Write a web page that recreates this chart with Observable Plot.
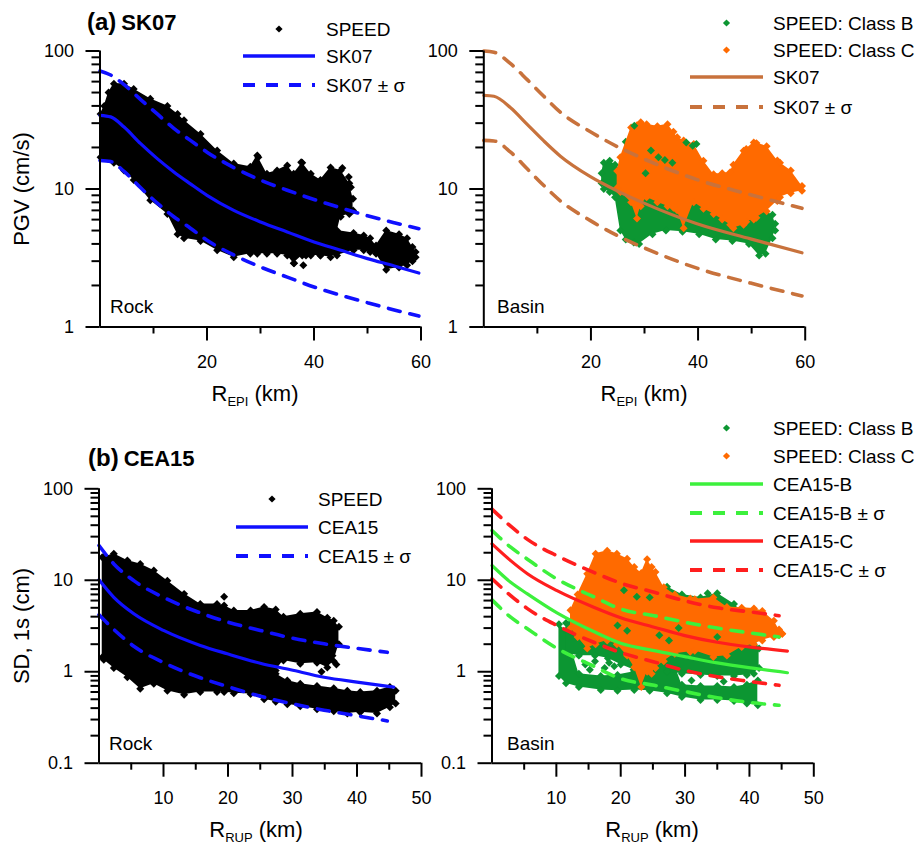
<!DOCTYPE html>
<html><head><meta charset="utf-8">
<script src="https://cdn.jsdelivr.net/npm/d3@7"></script>
<script src="https://cdn.jsdelivr.net/npm/@observablehq/plot@0.6"></script>
<style>
body{margin:0;background:#fff;}
#root{position:relative;width:924px;height:845px;overflow:hidden;background:#fff;font-family:"Liberation Sans",Arial,sans-serif;}
#root svg{overflow:visible;max-width:none;}
</style></head><body><div id="root"></div>
<script>
// ================= DATA =================
// ---- Panel (a) Rock: SPEED cloud envelope (R_EPI km, PGV cm/s)
const rockA_x  = [0.1, 0.8, 1.6, 2.6, 4.5, 6.3, 9.4, 12.6, 14.5, 15.7, 18.8, 21.9, 25.0, 28.1, 29.4, 31.2, 33.1, 35.0, 36.2, 37.8, 39.4, 41.2, 43.1, 45.0, 46.6, 47.3];
const rockA_hi = [35, 40, 50, 58, 58, 53, 45, 40, 35, 31.5, 25, 19, 15.3, 14.5, 17.5, 12.9, 13.6, 14.8, 12.9, 15.5, 12.9, 11.6, 14.3, 13.6, 11, 8.5];
const rockA_lo = [17, 16.8, 16.5, 15.5, 13.6, 11.6, 8.3, 6.6, 4.7, 4.4, 4.2, 3.6, 3.2, 3.4, 3.4, 3.4, 3.4, 3.3, 2.9, 3.3, 3.3, 3.3, 3.2, 6.3, 6.6, 7.0];
// low tail of the rock cloud
const rockA2_x  = [38.5, 41.2, 44.3, 47.4, 49.3, 50.5, 51.6, 53.5, 55.9, 57.4, 58.4, 59.0];
const rockA2_hi = [6.0, 5.6, 5.0, 4.8, 4.6, 4.4, 3.9, 5.0, 4.7, 4.4, 3.8, 3.5];
const rockA2_lo = [3.3, 3.3, 3.3, 3.6, 3.6, 3.5, 3.4, 2.6, 2.7, 2.8, 3.0, 3.2];
const rockA_ptX = [45.3, 46.5, 46.9, 44.5, 36.3, 29.6, 37.6, 42.0, 38.0];
const rockA_ptY = [14.2, 12.2, 10.3, 12.8, 2.9, 17.0, 15.6, 6.0, 2.8];
// SK07 (rock) median and +/- sigma
const sk07R_x   = [0, 2, 4.5, 7.6, 10.7, 13.8, 16.9, 20, 25, 30, 35, 40, 45, 50, 55, 59.6];
const sk07R_med = [34.2, 33.3, 28.1, 21.3, 16.6, 13.3, 10.9, 9.0, 7.0, 5.77, 4.88, 4.13, 3.6, 3.13, 2.77, 2.46];
const sk07R_hi  = [71.7, 67, 57, 44.5, 35, 27.5, 22.5, 18.5, 14.3, 11.6, 9.8, 8.4, 7.3, 6.4, 5.7, 5.16];
const sk07R_lo  = [16.1, 15.8, 13.4, 10.2, 7.9, 6.3, 5.2, 4.25, 3.33, 2.72, 2.3, 1.95, 1.7, 1.5, 1.33, 1.2];

// ---- Panel (a) Basin: Class B (green) and Class C (orange) clouds
const basAB_x  = [22.0, 22.4, 23.5, 24.5, 25.5, 26.5, 28, 29, 31.5, 34, 37.1, 40.2, 43.3, 46.4, 49.5, 51.4, 52.6, 53.9, 54.4];
const basAB_hi = [13, 15.5, 16, 15, 14, 22, 27, 24, 18, 15, 13, 12, 12, 10, 8, 7, 6.8, 6.5, 5.6];
const basAB_lo = [11, 10, 9.5, 8.7, 5.0, 4.3, 4.1, 4.0, 4.7, 5.0, 4.9, 4.7, 4.3, 4.2, 4.0, 3.3, 3.4, 4.4, 5.0];
const basAC_x  = [24.9, 25.5, 27.5, 28.6, 29.3, 30.4, 32.4, 34.3, 35.4, 36.1, 37.3, 39.2, 41, 42.9, 44.5, 46, 46.6, 48.5, 49.0, 50.4, 50.9, 52.8, 54.8, 55.3, 57.3, 59.4];
const basAC_hi = [13.5, 17, 27.9, 29, 30.4, 29.5, 28.5, 29.5, 26, 23.7, 22.5, 21.2, 16, 12.8, 13, 13.2, 15, 18.9, 19.5, 21.7, 21.5, 20.4, 16.1, 15.5, 13.6, 10.5];
const basAC_lo = [10.2, 9.5, 8, 6.1, 7.5, 8.7, 8, 7.5, 7.3, 7, 5.2, 8.0, 7.2, 6.6, 6.0, 5.5, 5.2, 5.5, 5.8, 6, 6.2, 6.9, 8.2, 8.7, 9.3, 9.7];
const basAB_ptX = [28.1, 31.2, 32.6, 33.8, 37.8, 39.0, 39.7, 30.2, 35.2];
const basAB_ptY = [28.7, 19.0, 17.0, 16.2, 21.7, 20.6, 21.2, 13.0, 15.5];
// SK07 (basin)
const sk07B_x   = [0, 1.9, 5, 8.1, 11.2, 14.3, 19.9, 24.9, 29.9, 39.8, 49.8, 59.4];
const sk07B_med = [47.7, 47, 38.8, 29.4, 22.3, 17.3, 12.3, 9.7, 7.9, 5.6, 4.35, 3.45];
const sk07B_hi  = [100, 98, 81, 62, 47, 36, 26, 20.3, 16.5, 11.7, 9.1, 7.24];
const sk07B_lo  = [22.5, 22.3, 18.5, 14, 10.6, 8.2, 5.9, 4.6, 3.75, 2.67, 2.08, 1.68];

// ---- Panel (b) Rock: SPEED cloud (R_RUP km, SD 1s cm): upper branch + low tail
const rockB_x  = [0.5, 0.75, 2.3, 4.4, 6.4, 8.5, 10.6, 13.2, 15.7, 18.3, 19.4, 20.9, 23.5, 25.6, 27.4, 28.6, 31.2, 33.8, 35.4, 36.4, 37.2];
const rockB_hi = [17.9, 17.9, 19.5, 16.4, 15.1, 12.8, 9.9, 7.1, 5.5, 5.5, 5.3, 4.67, 4.67, 5.1, 4.8, 4.0, 4.3, 4.5, 3.9, 3.6, 3.1];
const rockB_lo = [1.44, 1.35, 1.1, 0.87, 0.65, 0.74, 0.62, 0.56, 0.6, 0.6, 0.6, 0.58, 0.57, 0.55, 1.03, 1.33, 1.22, 1.25, 1.11, 1.3, 2.0];
const rockB2_x  = [25.6, 27.4, 29.2, 31.2, 33.8, 36.4, 38.5, 40.5, 43.1, 45.1, 46.0];
const rockB2_hi = [0.9, 0.95, 0.8, 0.74, 0.7, 0.66, 0.62, 0.6, 0.62, 0.68, 0.62];
const rockB2_lo = [0.5, 0.47, 0.44, 0.42, 0.39, 0.37, 0.35, 0.36, 0.35, 0.41, 0.45];
const rockB_ptX = [19.4, 36.8, 36.2, 37.0, 34.5];
const rockB_ptY = [6.6, 1.2, 1.5, 2.0, 1.0];
// CEA15 (rock)
const ceaR_x    = [0, 2.3, 5.4, 10, 15.7, 19.9, 25, 29.7, 34.9, 40, 45.7];
const ceaR_med  = [10.1, 6.5, 4.3, 2.83, 1.94, 1.57, 1.24, 1.05, 0.87, 0.77, 0.68];
const ceaRs_x   = [0, 2.3, 5.4, 10, 15.7, 19.9, 25, 29.7, 34.9, 40, 44.7];
const ceaR_hi   = [24, 15.1, 9.9, 6.5, 4.4, 3.5, 2.83, 2.35, 2.02, 1.8, 1.63];
const ceaR_lo   = [4.2, 2.9, 1.9, 1.26, 0.86, 0.69, 0.54, 0.45, 0.38, 0.33, 0.29];

// ---- Panel (b) Basin clouds: Class B in two bands, Class C
const basBB1_x  = [10.4, 11.5, 13.5, 16.9, 19.5, 22.1, 24.5, 27.2, 29.5, 32.4, 35, 37.6, 39.6, 41.3];
const basBB1_lo = [0.9, 0.75, 0.68, 0.63, 0.62, 0.63, 0.62, 0.58, 0.53, 0.49, 0.49, 0.48, 0.45, 0.43];
const basBB1_hi = [3.3, 2.8, 0.95, 0.9, 0.92, 1.0, 2.5, 2.0, 0.72, 0.7, 0.7, 0.68, 0.72, 0.8];
const basBB2_x  = [11.5, 13.5, 16, 18, 20, 22, 24.5, 27.2, 29.5, 32.4, 35, 37.6, 39.6, 40.7, 41.5];
const basBB2_lo = [1.6, 1.5, 1.5, 1.4, 1.2, 1.05, 1.0, 1.0, 0.95, 0.92, 0.9, 0.9, 0.92, 0.95, 1.1];
const basBB2_hi = [3.4, 3.9, 5, 5.5, 7.5, 8, 8, 8.5, 7, 6.5, 7.2, 5.5, 4.0, 2.5, 1.8];
const basBC_x  = [12.2, 13.3, 14.8, 16.1, 17.9, 19.4, 21, 22.1, 23.2, 24.1, 24.8, 25.4, 26.7, 28.4, 30.8, 31.5, 34.4, 36.5, 38.8, 40.7, 42, 43.8, 44.6, 45.1];
const basBC_hi = [4.7, 7, 11.8, 19.5, 21, 19.5, 17.2, 14, 12, 17, 14, 12.3, 8.4, 7, 6.3, 6.2, 6.5, 5.1, 5.0, 4.9, 4.6, 3.6, 2.9, 2.6];
const basBC_lo = [3.0, 2.39, 1.8, 2.0, 2.2, 2.0, 1.5, 1.12, 0.68, 1.0, 0.95, 1.1, 1.3, 1.57, 1.65, 1.7, 1.45, 1.5, 1.86, 2.0, 2.2, 2.4, 2.5, 2.6];
const basBB_ptX = [19.5, 21.0, 26.0, 27.5, 24.5, 33.5, 20.5, 22.5, 29.0, 35.0, 14.5, 16.0, 17.5, 19.0, 15.2, 18.2, 31.0, 36.0];
const basBB_ptY = [3.2, 2.8, 2.5, 2.2, 6.5, 7.2, 7.8, 6.6, 3.0, 2.4, 1.2, 1.3, 1.1, 1.15, 1.05, 1.25, 0.8, 0.78];
// CEA15-B / CEA15-C
const ceaB_x     = [0, 2.9, 5.5, 10.1, 15.8, 20, 25.2, 29.8, 35, 40.2, 45.9];
const ceaC_med   = [25, 16.4, 11.8, 7.7, 5.08, 3.9, 3.07, 2.5, 2.1, 1.86, 1.68];
const ceaB_med   = [14.5, 9.5, 7.1, 4.4, 2.75, 2.05, 1.7, 1.47, 1.25, 1.1, 0.975];
const ceaBs_x    = [0, 2.9, 5.5, 10.1, 15.8, 20, 25.2, 29.8, 35, 40.2, 44.6];
const ceaC_hi    = [60, 39, 28, 18.5, 12.2, 9.3, 7.4, 6.0, 5.0, 4.5, 4.1];
const ceaC_lo    = [10.4, 6.8, 4.9, 3.2, 2.1, 1.62, 1.28, 1.04, 0.88, 0.78, 0.71];
const ceaB_hi    = [35, 23, 17, 10.3, 6.6, 4.85, 4.1, 3.5, 3.0, 2.65, 2.4];
const ceaB_lo    = [6.1, 3.95, 2.95, 1.8, 1.15, 0.84, 0.71, 0.61, 0.52, 0.46, 0.43];

// ---- Ticks
const xTicksA = [20, 40, 60], xMinorA = [10, 30, 50];
const xTicksB = [10, 20, 30, 40, 50], xMinorB = [5, 15, 25, 35, 45];
const yTicksA = [1, 10, 100], yMinorA = [2,3,4,5,6,7,8,9,20,30,40,50,60,70,80,90];
const yTicksB = [0.1, 1, 10, 100], yMinorB = [0.2,0.3,0.4,0.5,0.6,0.7,0.8,0.9,2,3,4,5,6,7,8,9,20,30,40,50,60,70,80,90];

// ================= STYLE =================
const FONT = "Liberation Sans, Arial, sans-serif";
const C = {black: "#000000", blue: "#1010ff", green: "#0c9632", orange: "#ff6a00",
           brown: "#c8723c", lime: "#3cf03c", red: "#ff1e1e"};
const DASH = "12,10";

// ================= HELPERS =================
const root = document.getElementById("root");
const band = (xs, lo, hi) => xs.map((x, i) => ({x, lo: lo[i], hi: hi[i]}));
const pts = (xs, ys) => xs.map((x, i) => ({x, y: ys[i]}));

function cloud(xs, lo, hi, color, r = 3.6) {
  const d = band(xs, lo, hi);
  return [
    Plot.areaY(d, {x: "x", y1: "lo", y2: "hi", fill: color, curve: "linear"}),
    Plot.dot(d, {x: "x", y: "hi", symbol: "diamond2", r, fill: color}),
    Plot.dot(d, {x: "x", y: "lo", symbol: "diamond2", r, fill: color})
  ];
}
function scatter(xs, ys, color, r = 3.6) {
  return Plot.dot(pts(xs, ys), {x: "x", y: "y", symbol: "diamond2", r, fill: color});
}
function curve(xs, ys, color, dashed) {
  return Plot.line(pts(xs, ys), {x: "x", y: "y", stroke: color, strokeWidth: dashed ? 3.6 : 3.2,
    strokeDasharray: dashed ? DASH : null, curve: "monotone-x"});
}
function axes(xd, yd, xM, xm, yM, ym) {
  return [
    Plot.axisY({ticks: ym, tickSize: 8, tickFormat: () => "", strokeWidth: 2, label: null}),
    Plot.axisY({ticks: yM, tickSize: 14, tickPadding: 12, tickFormat: d => String(d), strokeWidth: 2, label: null}),
    Plot.axisX({ticks: xm, tickSize: 7, tickFormat: () => "", strokeWidth: 2, label: null}),
    Plot.axisX({ticks: xM, tickSize: 14, tickPadding: 14, tickFormat: d => String(d), strokeWidth: 2, label: null}),
    Plot.ruleX([xd[0]], {stroke: "black", strokeWidth: 2}),
    Plot.ruleY([yd[0]], {stroke: "black", strokeWidth: 2})
  ];
}
function addPlot(left, top, o) {
  const el = Plot.plot({
    width: o.width, height: o.height,
    marginLeft: o.ml, marginRight: o.mr, marginTop: o.mt, marginBottom: o.mb,
    x: {type: "linear", domain: o.xd},
    y: {type: "log", domain: o.yd},
    style: {background: "transparent", fontFamily: FONT, fontSize: "18px", color: "black", overflow: "visible"},
    marks: [...o.marks, ...axes(o.xd, o.yd, o.xM, o.xm, o.yM, o.ym)]
  });
  const wrap = document.createElement("div");
  wrap.style.cssText = `position:absolute;left:${left}px;top:${top}px;`;
  wrap.appendChild(el);
  root.appendChild(wrap);
}

// ================= PANELS =================
addPlot(0, 0, {width: 440, height: 400, ml: 99.5, mr: 19.5, mt: 50.5, mb: 73.5,
  xd: [0, 60], yd: [1, 100], xM: xTicksA, xm: xMinorA, yM: yTicksA, ym: yMinorA,
  marks: [
    ...cloud(rockA_x, rockA_lo, rockA_hi, C.black),
    ...cloud(rockA2_x, rockA2_lo, rockA2_hi, C.black),
    scatter(rockA_ptX, rockA_ptY, C.black),
    curve(sk07R_x, sk07R_hi, C.blue, true),
    curve(sk07R_x, sk07R_lo, C.blue, true),
    curve(sk07R_x, sk07R_med, C.blue, false)
  ]});

addPlot(420, 0, {width: 420, height: 400, ml: 63.3, mr: 35.3, mt: 50.5, mb: 73.5,
  xd: [0, 60], yd: [1, 100], xM: xTicksA, xm: xMinorA, yM: yTicksA, ym: yMinorA,
  marks: [
    ...cloud(basAB_x, basAB_lo, basAB_hi, C.green),
    ...cloud(basAC_x, basAC_lo, basAC_hi, C.orange),
    scatter(basAB_ptX, basAB_ptY, C.green),
    curve(sk07B_x, sk07B_hi, C.brown, true),
    curve(sk07B_x, sk07B_lo, C.brown, true),
    curve(sk07B_x, sk07B_med, C.brown, false)
  ]});

addPlot(0, 420, {width: 440, height: 425, ml: 98.5, mr: 19, mt: 68.3, mb: 82.3,
  xd: [0, 50], yd: [0.1, 100], xM: xTicksB, xm: xMinorB, yM: yTicksB, ym: yMinorB,
  marks: [
    ...cloud(rockB_x, rockB_lo, rockB_hi, C.black),
    ...cloud(rockB2_x, rockB2_lo, rockB2_hi, C.black),
    scatter(rockB_ptX, rockB_ptY, C.black),
    curve(ceaRs_x, ceaR_hi, C.blue, true),
    curve(ceaRs_x, ceaR_lo, C.blue, true),
    curve(ceaR_x, ceaR_med, C.blue, false)
  ]});

addPlot(420, 420, {width: 420, height: 425, ml: 71.5, mr: 26.7, mt: 68.3, mb: 82.3,
  xd: [0, 50], yd: [0.1, 100], xM: xTicksB, xm: xMinorB, yM: yTicksB, ym: yMinorB,
  marks: [
    ...cloud(basBB1_x, basBB1_lo, basBB1_hi, C.green),
    ...cloud(basBB2_x, basBB2_lo, basBB2_hi, C.green),
    ...cloud(basBC_x, basBC_lo, basBC_hi, C.orange),
    scatter(basBB_ptX, basBB_ptY, C.green),
    curve(ceaBs_x, ceaC_hi, C.red, true),
    curve(ceaBs_x, ceaC_lo, C.red, true),
    curve(ceaBs_x, ceaB_hi, C.lime, true),
    curve(ceaBs_x, ceaB_lo, C.lime, true),
    curve(ceaB_x, ceaC_med, C.red, false),
    curve(ceaB_x, ceaB_med, C.lime, false)
  ]});

// ================= OVERLAY TEXT / LEGENDS =================
const svg = d3.select(root).append("svg")
  .attr("width", 924).attr("height", 845)
  .style("position", "absolute").style("left", 0).style("top", 0)
  .style("font-family", FONT).style("pointer-events", "none");

function title(x, y, tag, name) {
  const t = svg.append("text").attr("x", x).attr("y", y).attr("font-weight", "bold");
  t.append("tspan").attr("font-size", 24).text(tag);
  t.append("tspan").attr("font-size", 22).attr("dx", 5).text(name);
}
title(87, 30, "(a)", "SK07");
title(88, 466, "(b)", "CEA15");

function ytitle(cx, cy, txt) {
  svg.append("text").attr("transform", `translate(${cx},${cy}) rotate(-90)`)
    .attr("text-anchor", "middle").attr("dy", "0.35em").attr("font-size", 22).text(txt);
}
ytitle(21, 189, "PGV (cm/s)");
ytitle(21, 626, "SD, 1s (cm)");

function xtitle(cx, by, sub) {
  const t = svg.append("text").attr("x", cx).attr("y", by).attr("text-anchor", "middle").attr("font-size", 22);
  t.append("tspan").text("R");
  t.append("tspan").attr("font-size", 13).attr("dy", 5).text(sub);
  t.append("tspan").attr("dy", -5).text(" (km)");
}
xtitle(255, 401, "EPI");
xtitle(644, 401, "EPI");
xtitle(256, 837, "RUP");
xtitle(652, 837, "RUP");

function note(x, y, txt) {
  svg.append("text").attr("x", x).attr("y", y).attr("font-size", 19).text(txt);
}
note(110, 313, "Rock");
note(497, 313, "Basin");
note(109, 750, "Rock");
note(507, 750, "Basin");

function legend(x0, x1, tx, rows) {
  for (const [kind, color, label, y] of rows) {
    if (kind === "dot") {
      const cx = (x0 + x1) / 2, s = 3.6;
      svg.append("path").attr("d", `M${cx},${y - s}L${cx + s},${y}L${cx},${y + s}L${cx - s},${y}Z`).attr("fill", color);
    } else {
      svg.append("line").attr("x1", x0).attr("x2", x1).attr("y1", y).attr("y2", y)
        .attr("stroke", color).attr("stroke-width", kind === "dash" ? 4 : 3.4)
        .attr("stroke-dasharray", kind === "dash" ? "12,11" : null);
    }
    svg.append("text").attr("x", tx).attr("y", y).attr("dy", "0.35em").attr("font-size", 19).text(label);
  }
}
legend(243, 315, 326, [["dot", C.black, "SPEED", 29], ["solid", C.blue, "SK07", 56], ["dash", C.blue, "SK07 \u00b1 \u03c3", 85]]);
legend(690, 763, 773, [["dot", C.green, "SPEED: Class B", 23], ["dot", C.orange, "SPEED: Class C", 50],
  ["solid", C.brown, "SK07", 77], ["dash", C.brown, "SK07 \u00b1 \u03c3", 107]]);
legend(236, 308, 318, [["dot", C.black, "SPEED", 499], ["solid", C.blue, "CEA15", 527], ["dash", C.blue, "CEA15 \u00b1 \u03c3", 556]]);
legend(690, 763, 773, [["dot", C.green, "SPEED: Class B", 428], ["dot", C.orange, "SPEED: Class C", 456],
  ["solid", C.lime, "CEA15-B", 484], ["dash", C.lime, "CEA15-B \u00b1 \u03c3", 513],
  ["solid", C.red, "CEA15-C", 541], ["dash", C.red, "CEA15-C \u00b1 \u03c3", 570]]);
</script></body></html>
